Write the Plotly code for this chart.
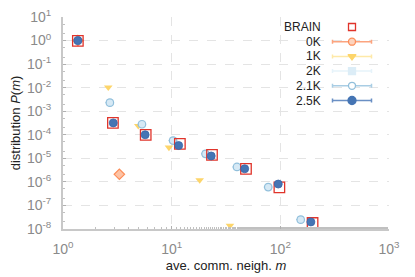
import plotly.graph_objects as go

# ---- data ----
brain_x = [1.37, 2.88, 5.77, 11.9, 23.5, 48.3, 98.0, 198.0]
brain_y = [0.96, 3.2e-4, 1.0e-4, 4.1e-5, 1.4e-5, 3.6e-6, 5.9e-7, 1.8e-8]

k0_x = [1.37, 3.3]
k0_y = [1.0, 2.1e-6]

k1_x = [2.61, 4.93, 9.44, 18.1, 34.4]
k1_y = [1.04e-2, 2.4e-4, 2.9e-5, 1.2e-6, 1.4e-8]

k2_x = [1.37, 2.7, 5.33, 10.3, 20.5, 39.9, 77.4, 154.0]
k2_y = [1.0, 2.3e-3, 2.8e-4, 5.7e-5, 1.55e-5, 4.3e-6, 6.0e-7, 2.5e-8]

k21_x = [1.37, 2.7, 5.33, 10.3, 20.5, 39.9, 77.4, 154.0]
k21_y = [1.0, 2.3e-3, 2.8e-4, 5.7e-5, 1.55e-5, 4.3e-6, 6.0e-7, 2.5e-8]

k25_x = [1.37, 2.9, 5.7, 11.6, 23.1, 47.0, 95.7, 191.0]
k25_y = [1.0, 3.2e-4, 1.0e-4, 3.5e-5, 1.26e-5, 3.6e-6, 8.1e-7, 2.0e-8]

series_names = ["BRAIN", "0K", "1K", "2K", "2.1K", "2.5K"]
x_ticks = [1, 10, 100, 1000]
x_ticktext = ["10<sup>0</sup>", "10<sup>1</sup>", "10<sup>2</sup>", "10<sup>3</sup>"]
y_exps = list(range(-8, 2))
y_ticks = [10.0 ** e for e in y_exps]
y_ticktext = ["10<sup>%d</sup>" % e for e in y_exps]

# ---- styles ----
C_BRAIN = "#e0342b"
C_0K = "#fc8d59"
C_1K = "#fdd56a"
C_2K = "#dcedf7"
C_21K = "#91bfdb"
C_25K = "#4575b4"
FONT = "Liberation Sans, Arial, sans-serif"

fig = go.Figure()

fig.add_trace(go.Scatter(x=k2_x, y=k2_y, mode="markers", name="2K",
                         marker=dict(symbol="square", size=7, color=C_2K,
                                     line=dict(width=0))))
fig.add_trace(go.Scatter(x=k0_x, y=k0_y, mode="markers", name="0K",
                         marker=dict(symbol="diamond", size=8, color="#fdc3a5",
                                     line=dict(width=1.2, color=C_0K))))
fig.add_trace(go.Scatter(x=k1_x, y=k1_y, mode="markers", name="1K",
                         marker=dict(symbol="triangle-down", size=7.5, color=C_1K,
                                     line=dict(width=0))))
fig.add_trace(go.Scatter(x=k21_x, y=k21_y, mode="markers", name="2.1K",
                         error_x=dict(type="percent", value=9, color=C_21K,
                                      thickness=1, width=0),
                         marker=dict(symbol="circle", size=7.5, color="#d6e9f5",
                                     line=dict(width=1.2, color=C_21K))))
fig.add_trace(go.Scatter(x=brain_x, y=brain_y, mode="markers", name="BRAIN",
                         marker=dict(symbol="square-open", size=10.5, color=C_BRAIN,
                                     line=dict(width=1.3))))
fig.add_trace(go.Scatter(x=k25_x, y=k25_y, mode="markers", name="2.5K",
                         marker=dict(symbol="circle", size=8, color=C_25K,
                                     line=dict(width=0.8, color="#3a66a8"))))

# ---- legend key (text left, sample right), drawn on an overlay axis ----
leg_colors = [C_BRAIN, C_0K, C_1K, C_2K, C_21K, C_25K]
leg_line = ["rgba(0,0,0,0)", "#fca47f", "#fee9a8", "#e6f3fa", "#a9cde4", "#6a8fc4"]
leg_symbols = ["square-open", "circle", "triangle-down", "square", "circle", "circle"]
leg_fill = [C_BRAIN, "#fdd3bd", C_1K, C_2K, "#ffffff", C_25K]
leg_size = [7, 7, 7, 7, 7, 8]
row0, row_step = 10.0, 14.7
for i, nm in enumerate(series_names):
    yy = row0 + row_step * i
    fig.add_trace(go.Scatter(
        x=[289], y=[yy], xaxis="x2", yaxis="y2", mode="markers", showlegend=False,
        hoverinfo="skip",
        error_x=dict(type="constant", value=19.5, color=leg_line[i], thickness=1.5,
                     width=2, visible=(i > 0)),
        marker=dict(symbol=leg_symbols[i], size=leg_size[i], color=leg_fill[i],
                    line=dict(width=1.3, color=leg_colors[i] if i != 3 else C_2K))))
    fig.add_annotation(x=260, y=yy, xref="x2", yref="y2", text=nm, showarrow=False,
                       xanchor="right", yanchor="middle",
                       font=dict(family=FONT, size=12, color="#222222"))

axis_common = dict(
    type="log", showgrid=True, gridcolor="#e4e4e4", griddash="dash", gridwidth=1,
    zeroline=False, showline=True, linecolor="#c8c8c8", linewidth=2,
    ticks="inside", ticklen=3, tickcolor="#b0b0b0", tickwidth=1,
    tickfont=dict(family=FONT, size=14, color="#8a8a8a"),
    minor=dict(ticks="inside", ticklen=2, tickcolor="#c0c0c0", showgrid=False),
    automargin=False,
)

hidden_axis = dict(showgrid=False, showline=False, zeroline=False, ticks="",
                   showticklabels=False, fixedrange=True, automargin=False)

fig.update_layout(
    width=415, height=277,
    margin=dict(l=63, r=26, t=17, b=48),
    paper_bgcolor="white", plot_bgcolor="white",
    showlegend=False,
    font=dict(family=FONT),
    xaxis=dict(axis_common, range=[0, 3], tickvals=x_ticks, ticktext=x_ticktext,
               ticklabelstandoff=6,
               title=dict(text="ave. comm. neigh. <i>m</i>", standoff=5,
                          font=dict(family=FONT, size=13, color="#222222"))),
    yaxis=dict(axis_common, range=[-8, 1], tickvals=y_ticks, ticktext=y_ticktext,
               ticklabelstandoff=7,
               title=dict(text="distribution <i>P</i>(<i>m</i>)", standoff=3,
                          font=dict(family=FONT, size=13, color="#222222"))),
    xaxis2=dict(hidden_axis, overlaying="x", range=[0, 326]),
    yaxis2=dict(hidden_axis, overlaying="y", range=[212, 0]),
)

fig.write_html("out.html", config={"displayModeBar": False},
               post_script="document.body.style.margin='0';"
               "document.body.style.padding='0';")
